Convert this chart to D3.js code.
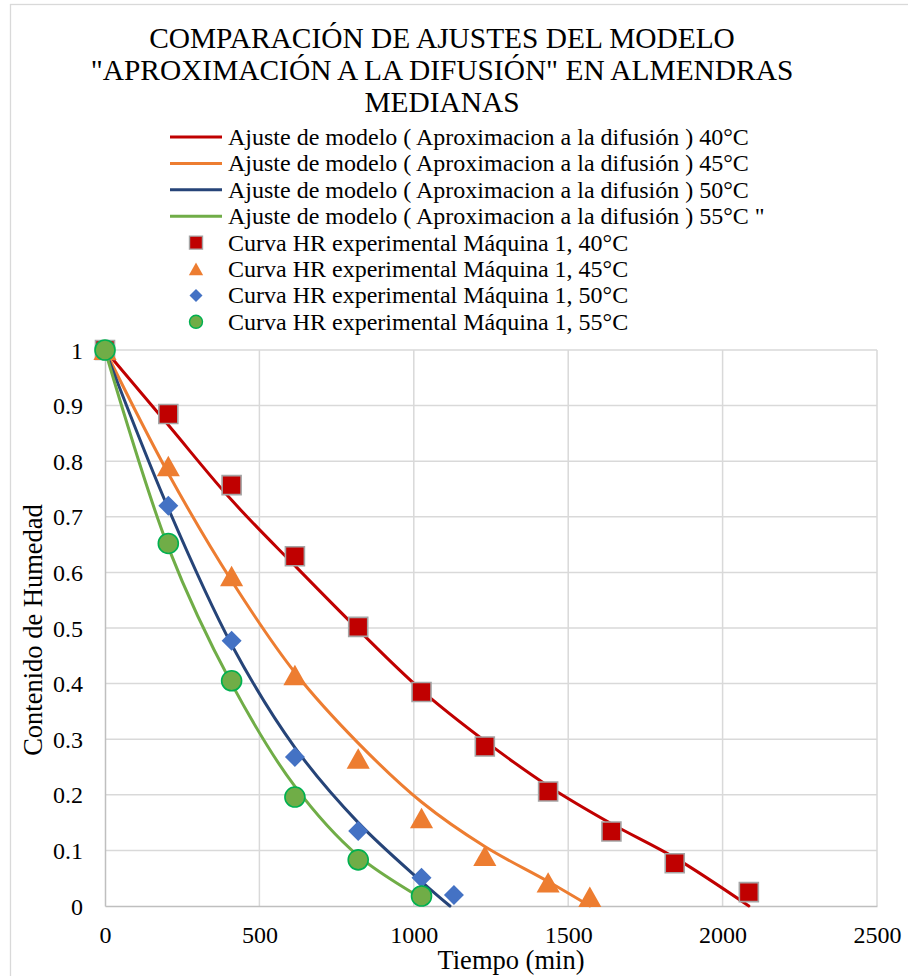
<!DOCTYPE html>
<html>
<head>
<meta charset="utf-8">
<script src="https://cdn.jsdelivr.net/npm/d3@7"></script>
<style>
  html, body { margin: 0; padding: 0; background: #ffffff; }
  svg { display: block; }
  text { font-family: "Liberation Serif", "Times New Roman", Times, serif; fill: #000; }
</style>
</head>
<body>
<svg id="chart" width="908" height="976"></svg>
<script>
// ---------------- DATA ----------------
const titleLines = ["COMPARACIÓN DE AJUSTES DEL MODELO", "\"APROXIMACIÓN A LA DIFUSIÓN\" EN ALMENDRAS", "MEDIANAS"];
const xTicks = [0, 500, 1000, 1500, 2000, 2500];
const yTicks = [0, 0.1, 0.2, 0.3, 0.4, 0.5, 0.6, 0.7, 0.8, 0.9, 1];
const xTitle = "Tiempo (min)";
const yTitle = "Contenido de Humedad";

// Model curves
const model40T = [0, 205, 410, 615, 820, 1025, 1230, 1435, 1640, 1845, 2085];
const model40Y = [1, 0.865, 0.73, 0.612, 0.497, 0.388, 0.297, 0.216, 0.148, 0.087, 0];
const model45T = [0, 205, 410, 615, 820, 1025, 1230, 1435, 1570];
const model45Y = [1, 0.778, 0.585, 0.42, 0.293, 0.187, 0.107, 0.044, 0];
const model50T = [0, 205, 410, 615, 820, 1025, 1117];
const model50Y = [1, 0.715, 0.47, 0.285, 0.15, 0.044, 0];
const model55T = [0, 205, 410, 615, 820, 1025];
const model55Y = [1, 0.645, 0.4, 0.215, 0.09, 0.014];

// Experimental points
const exp40T = [0, 205, 410, 615, 820, 1025, 1230, 1435, 1640, 1845, 2085];
const exp40Y = [1, 0.885, 0.757, 0.629, 0.502, 0.385, 0.287, 0.206, 0.134, 0.077, 0.025];
const exp45T = [0, 205, 410, 615, 820, 1025, 1230, 1435, 1570];
const exp45Y = [1, 0.791, 0.593, 0.415, 0.265, 0.158, 0.09, 0.042, 0.016];
const exp50T = [0, 205, 410, 615, 820, 1025, 1130];
const exp50Y = [1, 0.72, 0.477, 0.268, 0.135, 0.051, 0.02];
const exp55T = [0, 205, 410, 615, 820, 1025];
const exp55Y = [1, 0.652, 0.405, 0.196, 0.083, 0.018];

const modelLabels = [
  "Ajuste de modelo ( Aproximacion a la difusión ) 40°C",
  "Ajuste de modelo ( Aproximacion a la difusión ) 45°C",
  "Ajuste de modelo ( Aproximacion a la difusión ) 50°C",
  "Ajuste de modelo ( Aproximacion a la difusión ) 55°C \""
];
const expLabels = [
  "Curva HR experimental Máquina 1, 40°C",
  "Curva HR experimental Máquina 1, 45°C",
  "Curva HR experimental Máquina 1, 50°C",
  "Curva HR experimental Máquina 1, 55°C"
];
const lineColors = ["#c00000", "#ed7d31", "#264478", "#70ad47"];
const markerFills = ["#c00000", "#ed7d31", "#4472c4", "#70ad47"];
const markerStrokes = ["#a5a5a5", "none", "none", "#00b050"];
const markerShapes = ["square", "triangle", "diamond", "circle"];

// ---------------- CHART ----------------
const FONT = '"Liberation Serif", "Times New Roman", Times, serif';
const svg = d3.select("#chart");
const x = d3.scaleLinear().domain([0, 2500]).range([105, 877]);
const y = d3.scaleLinear().domain([0, 1]).range([906, 350]);

// chart area border
svg.append("rect").attr("x", 10.5).attr("y", 4.5).attr("width", 1000).attr("height", 1000)
  .attr("fill", "#fff").attr("stroke", "#d9d9d9").attr("stroke-width", 1.3);

// title
svg.append("g").selectAll("text").data(titleLines).join("text")
  .attr("x", 442).attr("y", (d, i) => 48 + i * 32)
  .attr("text-anchor", "middle").attr("font-size", 29.4).style("font-family", FONT).text(d => d);

// gridlines
const grid = svg.append("g");
grid.selectAll("line.v").data(xTicks.filter(t => t > 0)).join("line")
  .attr("x1", d => x(d)).attr("x2", d => x(d)).attr("y1", y(0)).attr("y2", y(1))
  .attr("stroke", "#d9d9d9").attr("stroke-width", 1.5);
grid.selectAll("line.h").data(yTicks.filter(t => t > 0)).join("line")
  .attr("x1", x(0)).attr("x2", x(2500)).attr("y1", d => y(d)).attr("y2", d => y(d))
  .attr("stroke", "#d9d9d9").attr("stroke-width", 1.5);

// axes
const xAxis = d3.axisBottom(x).tickValues(xTicks).tickSize(0).tickPadding(0).tickFormat(d3.format("d"));
const gx = svg.append("g").attr("transform", `translate(0,${y(0)})`).call(xAxis);
gx.select(".domain").attr("stroke", "#bfbfbf").attr("stroke-width", 1.5);
gx.selectAll("text").attr("font-size", 24).attr("y", 37).attr("dy", 0)
  .style("font-family", FONT).attr("fill", "#000");

const yAxis = d3.axisLeft(y).tickValues(yTicks).tickSize(0).tickPadding(0).tickFormat(d => String(+d.toFixed(1)));
const gy = svg.append("g").attr("transform", `translate(${x(0)},0)`).call(yAxis);
gy.select(".domain").attr("stroke", "#bfbfbf").attr("stroke-width", 1.5);
gy.selectAll("text").attr("font-size", 24).attr("x", -22).attr("dy", 8)
  .style("font-family", FONT).attr("fill", "#000");

// axis titles
svg.append("text").attr("x", 511).attr("y", 969).attr("text-anchor", "middle")
  .attr("font-size", 26.5).style("font-family", FONT).text(xTitle);
svg.append("text").attr("transform", "translate(42,630) rotate(-90)")
  .attr("text-anchor", "middle").attr("font-size", 26.5).style("font-family", FONT).text(yTitle);

// model lines
const models = [[model40T, model40Y], [model45T, model45Y], [model50T, model50Y], [model55T, model55Y]];
const lineGen = d3.line().x(d => x(d[0])).y(d => y(d[1])).curve(d3.curveCatmullRom.alpha(0.5));
models.forEach(([ts, ys], i) => {
  svg.append("path").datum(ts.map((t, j) => [t, ys[j]]))
    .attr("d", lineGen).attr("fill", "none")
    .attr("stroke", lineColors[i]).attr("stroke-width", 3).attr("stroke-linecap", "round");
});

// marker path helper
function markerPath(shape, s) {
  const h = s / 2;
  if (shape === "square") return `M${-h},${-h}H${h}V${h}H${-h}Z`;
  if (shape === "triangle") return `M0,${-h}L${h * 1.1},${h * 0.95}L${-h * 1.1},${h * 0.95}Z`;
  if (shape === "diamond") return `M0,${-h}L${h},0L0,${h}L${-h},0Z`;
  return d3.arc()({innerRadius: 0, outerRadius: h, startAngle: 0, endAngle: 2 * Math.PI});
}
const markerSizes = [19, 21, 20, 20];

const exps = [[exp40T, exp40Y], [exp45T, exp45Y], [exp50T, exp50Y], [exp55T, exp55Y]];
exps.forEach(([ts, ys], i) => {
  svg.append("g").selectAll("path").data(ts.map((t, j) => [t, ys[j]])).join("path")
    .attr("transform", d => `translate(${x(d[0])},${y(d[1])})`)
    .attr("d", markerPath(markerShapes[i], markerSizes[i]))
    .attr("fill", markerFills[i])
    .attr("stroke", markerStrokes[i])
    .attr("stroke-width", markerStrokes[i] === "none" ? 0 : 1.6);
});

// legend
const legend = svg.append("g");
const legY = i => 137 + i * 26.4;
modelLabels.forEach((lab, i) => {
  legend.append("line").attr("x1", 170).attr("x2", 222).attr("y1", legY(i)).attr("y2", legY(i))
    .attr("stroke", lineColors[i]).attr("stroke-width", 3);
  legend.append("text").attr("x", 228).attr("y", legY(i) + 8).attr("font-size", 24)
    .style("font-family", FONT).text(lab);
});
expLabels.forEach((lab, k) => {
  const i = k + 4;
  legend.append("path").attr("transform", `translate(196,${legY(i)})`)
    .attr("d", markerPath(markerShapes[k], 13))
    .attr("fill", markerFills[k]).attr("stroke", markerStrokes[k])
    .attr("stroke-width", markerStrokes[k] === "none" ? 0 : 1.4);
  legend.append("text").attr("x", 228).attr("y", legY(i) + 8).attr("font-size", 24)
    .style("font-family", FONT).text(lab);
});
</script>
</body>
</html>
